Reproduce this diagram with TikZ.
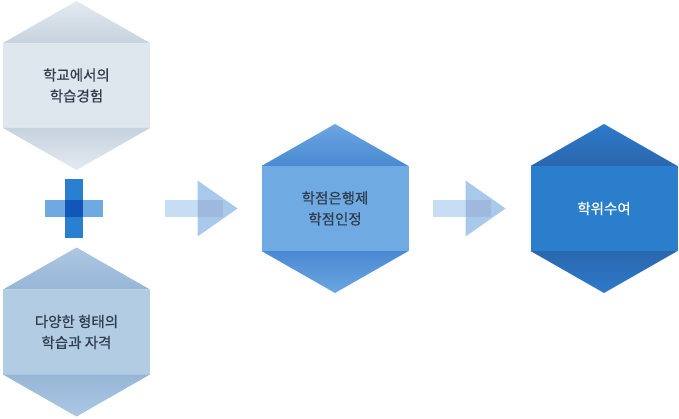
\documentclass[tikz,border=0pt]{standalone}
\usepackage{fontspec}
\setmainfont{Noto Sans CJK KR}
\newfontfamily\hexfont{Noto Sans CJK KR}[FakeBold=0.5]
\usetikzlibrary{positioning,calc}

\definecolor{schoolbody}{HTML}{DEE6EE}
\definecolor{schooltip}{HTML}{E3EAF1}
\definecolor{schoolrim}{HTML}{C6D2DE}
\definecolor{otherbody}{HTML}{B2CCE4}
\definecolor{othertip}{HTML}{ABC7E2}
\definecolor{otherrim}{HTML}{97B6D7}
\definecolor{creditbody}{HTML}{70AAE2}
\definecolor{credittip}{HTML}{6BA6E1}
\definecolor{creditrim}{HTML}{4A89D2}
\definecolor{degreebody}{HTML}{2B7ECB}
\definecolor{degreetip}{HTML}{2D7ACA}
\definecolor{degreerim}{HTML}{2A67AE}
\definecolor{txtdark}{HTML}{2F3C4C}
\definecolor{plusv}{HTML}{2A80D0}
\definecolor{plush}{HTML}{6FA9E2}
\definecolor{plusx}{HTML}{1356B9}
\definecolor{shaftblue}{HTML}{C6DDF3}
\definecolor{headblue}{HTML}{A8C9EB}
\definecolor{overblue}{HTML}{9EB8DE}

\begin{document}
\begin{tikzpicture}[x=1pt,y=1pt]
\tikzstyle{hexbody}=[shape=rectangle, minimum width=147pt, minimum height=85pt, inner sep=0pt, outer sep=0pt, align=center, font=\hexfont\fontsize{14.5}{21}\selectfont, text=txtdark]
\useasboundingbox (0,0) rectangle (679,418);

% School learning
\node[hexbody, fill=schoolbody] at (76.5,332.5) (school) {학교에서의\\학습경험};
\shade[top color=schooltip, bottom color=schoolrim] (school.north west) -- (school.north east) -- ($(school.north)+(0,42)$) -- cycle;
\shade[top color=schoolrim, bottom color=schooltip] (school.south west) -- (school.south east) -- ($(school.south)+(0,-42)$) -- cycle;

% Other learning
\node[hexbody, fill=otherbody, below of=school, node distance=246.5pt] (other) {다양한 형태의\\학습과 자격};
\shade[top color=othertip, bottom color=otherrim] (other.north west) -- (other.north east) -- ($(other.north)+(0,42)$) -- cycle;
\shade[top color=otherrim, bottom color=othertip] (other.south west) -- (other.south east) -- ($(other.south)+(0,-42)$) -- cycle;

% Plus
\coordinate (plus) at (74,209.5);
\fill[plusv] ($(plus)+(-9,-29.5)$) rectangle ($(plus)+(9,29.5)$);
\fill[plush] ($(plus)+(-29,-8.5)$) rectangle ($(plus)+(29,8.5)$);
\fill[plusx] ($(plus)+(-9,-8.5)$) rectangle ($(plus)+(9,8.5)$);

% Credit bank
\node[hexbody, fill=creditbody, right of=plus, node distance=261pt] (credit) {학점은행제\\학점인정};
\shade[top color=credittip, bottom color=creditrim] (credit.north west) -- (credit.north east) -- ($(credit.north)+(0,42)$) -- cycle;
\shade[top color=creditrim, bottom color=credittip] (credit.south west) -- (credit.south east) -- ($(credit.south)+(0,-42)$) -- cycle;

% Degree
\node[hexbody, fill=degreebody, text=white, right of=credit, node distance=269pt] (degree) {학위수여};
\shade[top color=degreetip, bottom color=degreerim] (degree.north west) -- (degree.north east) -- ($(degree.north)+(0,42)$) -- cycle;
\shade[top color=degreerim, bottom color=degreetip] (degree.south west) -- (degree.south east) -- ($(degree.south)+(0,-42)$) -- cycle;

% Arrows
\coordinate[left=24pt of credit.west] (tip1);
\fill[shaftblue] ($(tip1)+(-73,-8.5)$) rectangle ($(tip1)+(-15,8.5)$);
\fill[headblue] (tip1) -- ($(tip1)+(-40,28)$) -- ($(tip1)+(-40,-28)$) -- cycle;
\fill[overblue] ($(tip1)+(-40,-8.5)$) rectangle ($(tip1)+(-15,8.5)$);

\coordinate[left=25pt of degree.west] (tip2);
\fill[shaftblue] ($(tip2)+(-73,-8.5)$) rectangle ($(tip2)+(-15,8.5)$);
\fill[headblue] (tip2) -- ($(tip2)+(-40,28)$) -- ($(tip2)+(-40,-28)$) -- cycle;
\fill[overblue] ($(tip2)+(-40,-8.5)$) rectangle ($(tip2)+(-15,8.5)$);

\end{tikzpicture}
\end{document}
